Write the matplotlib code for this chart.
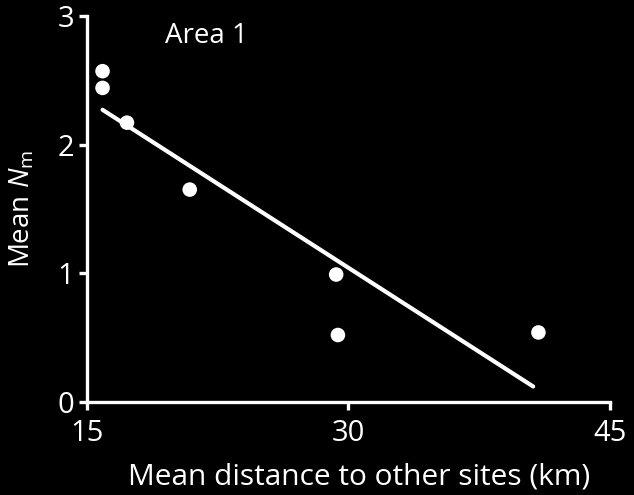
import matplotlib
matplotlib.use("Agg")
import matplotlib.pyplot as plt
import numpy as np

# values
distance = [15.9, 15.9, 17.3, 20.9, 29.3, 29.4, 40.9]
mean_nm = [2.57, 2.44, 2.17, 1.65, 0.99, 0.52, 0.54]
fit_x = [15.9, 40.6]
fit_y = [2.27, 0.12]
x_ticks = [15, 30, 45]
y_ticks = [0, 1, 2, 3]

plt.rcParams['font.family'] = ['Open Sans', 'DejaVu Sans']
plt.rcParams['mathtext.fontset'] = 'custom'
plt.rcParams['mathtext.rm'] = 'Open Sans'
plt.rcParams['mathtext.it'] = 'Open Sans:italic'

fig = plt.figure(figsize=(6.34, 4.95), dpi=100, facecolor='black')
ax = fig.add_axes([0.137, 0.188, 0.825, 0.78])
ax.set_facecolor('black')

ax.plot(fit_x, fit_y, color='white', lw=3, solid_capstyle='round')
ax.scatter(distance, mean_nm, s=110, color='white', edgecolors='none', zorder=3)

ax.set_xlim(15, 45)
ax.set_ylim(0, 3)
ax.set_xticks(x_ticks)
ax.set_yticks(y_ticks)

for side in ['top', 'right']:
    ax.spines[side].set_visible(False)
for side in ['left', 'bottom']:
    ax.spines[side].set_color('white')
    ax.spines[side].set_linewidth(2.4)

ax.tick_params(colors='white', width=2.4, length=6, labelsize=21)
ax.tick_params(axis='x', pad=6)
ax.tick_params(axis='y', pad=3)
ax.set_xlabel('Mean distance to other sites (km)', color='white', fontsize=21.5, labelpad=11)
ax.xaxis.label.set_x(0.521)
ax.set_ylabel('Mean $N_\\mathrm{m}$', color='white', fontsize=20, labelpad=15)

ax.text(19.47, 2.79, 'Area 1', color='white', fontsize=20, ha='left', va='baseline')

fig.savefig('out.png', dpi=100, facecolor='black')
